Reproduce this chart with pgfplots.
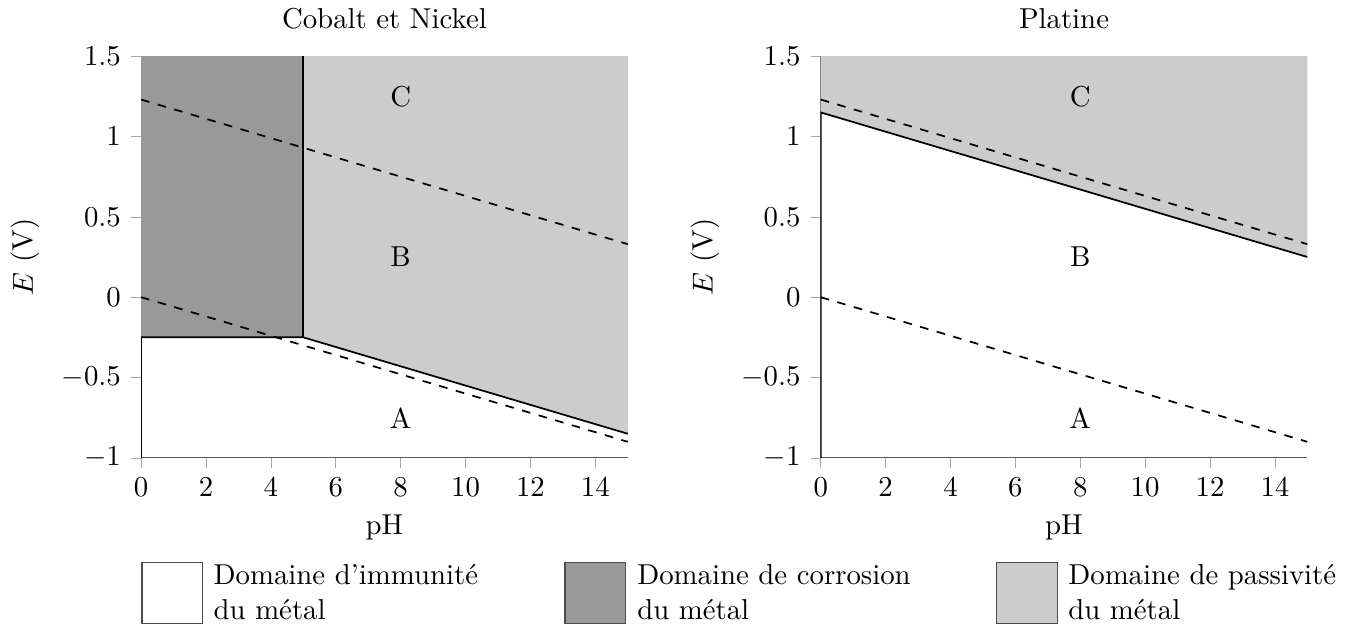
\documentclass[border=0pt]{standalone}
\usepackage{pgfplots}
\pgfplotsset{compat=1.18}
\begin{document}
\begin{tikzpicture}
\path[use as bounding box] (-49pt,-59pt) rectangle (420.5pt,159pt);
\pgfplotsset{
  pourbaix/.style={
    scale only axis, width=169pt, height=139.5pt,
    xmin=0, xmax=15, ymin=-1, ymax=1.5,
    xtick={0,2,...,14}, ytick={-1,-0.5,0,0.5,1,1.5},
    axis x line*=bottom, axis y line*=left,
    axis line style={black!65}, tick style={black!35},
    tick align=outside, major tick length=3.5pt,
    xlabel={pH}, ylabel={$E$ (V)},
    xlabel style={at={(axis description cs:0.5,-0.172)}, anchor=center},
    ylabel style={at={(axis description cs:-0.237,0.5)}, anchor=center},
  },
}
% Cobalt et Nickel
\begin{axis}[pourbaix, at={(0,0)}, anchor=south west, title={Cobalt et Nickel}]
\addplot[fill=black!40, draw=none] coordinates {(0,-0.25) (5,-0.25) (5,1.5) (0,1.5)} -- cycle;
\addplot[fill=black!20, draw=none] coordinates {(5,-0.25) (15,-0.85) (15,1.5) (5,1.5)} -- cycle;
\addplot[black, semithick, dashed] coordinates {(0,1.23) (15,0.33)};
\addplot[black, semithick, dashed] coordinates {(0,0) (15,-0.9)};
\addplot[black, semithick] coordinates {(0,-1) (0,-0.25) (5,-0.25) (15,-0.85)};
\addplot[black, semithick] coordinates {(5,-0.25) (5,1.5)};
\node at (axis cs:8,1.25) {C};
\node at (axis cs:8,0.25) {B};
\node at (axis cs:8,-0.75) {A};
\end{axis}
% Platine
\begin{axis}[pourbaix, at={(236pt,0)}, anchor=south west, title={Platine}]
\addplot[fill=black!20, draw=none] coordinates {(0,1.15) (15,0.25) (15,1.5) (0,1.5)} -- cycle;
\addplot[black, semithick, dashed] coordinates {(0,1.23) (15,0.33)};
\addplot[black, semithick, dashed] coordinates {(0,0) (15,-0.9)};
\addplot[black, semithick] coordinates {(0,-1) (0,1.15) (15,0.25)};
\node at (axis cs:8,1.25) {C};
\node at (axis cs:8,0.25) {B};
\node at (axis cs:8,-0.75) {A};
\end{axis}
% legende
\draw[black!70, fill=white] (0.3pt,-57.6pt) rectangle (21.3pt,-36.4pt);
\node[anchor=base west, inner sep=0pt] at (25pt,-44.1pt) {Domaine d'immunité};
\node[anchor=base west, inner sep=0pt] at (25pt,-56.2pt) {du métal};
\draw[black!70, fill=black!40] (147.2pt,-57.6pt) rectangle (168.2pt,-36.4pt);
\node[anchor=base west, inner sep=0pt] at (172.1pt,-44.1pt) {Domaine de corrosion};
\node[anchor=base west, inner sep=0pt] at (172.1pt,-56.2pt) {du métal};
\draw[black!70, fill=black!20] (297.1pt,-57.6pt) rectangle (318.1pt,-36.4pt);
\node[anchor=base west, inner sep=0pt] at (321.8pt,-44.1pt) {Domaine de passivité};
\node[anchor=base west, inner sep=0pt] at (321.8pt,-56.2pt) {du métal};
\end{tikzpicture}
\end{document}
